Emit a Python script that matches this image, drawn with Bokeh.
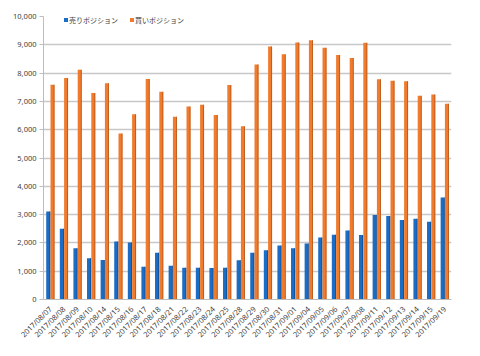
import math
from bokeh.plotting import figure
from bokeh.models import FactorRange, NumeralTickFormatter, Legend, LegendItem, FixedTicker
from bokeh.transform import dodge
from bokeh.embed import file_html
from bokeh.resources import INLINE

dates = ["2017/08/07", "2017/08/08", "2017/08/09", "2017/08/10", "2017/08/14",
         "2017/08/15", "2017/08/16", "2017/08/17", "2017/08/18", "2017/08/21",
         "2017/08/22", "2017/08/23", "2017/08/24", "2017/08/25", "2017/08/28",
         "2017/08/29", "2017/08/30", "2017/08/31", "2017/09/01", "2017/09/04",
         "2017/09/05", "2017/09/06", "2017/09/07", "2017/09/08", "2017/09/11",
         "2017/09/12", "2017/09/13", "2017/09/14", "2017/09/15", "2017/09/19"]
sell = [3110, 2500, 1810, 1460, 1400, 2050, 2010, 1160, 1650, 1190,
        1120, 1120, 1110, 1120, 1390, 1650, 1740, 1910, 1810, 1980,
        2190, 2290, 2440, 2280, 2990, 2950, 2810, 2850, 2750, 3600]
buy = [7590, 7830, 8120, 7300, 7640, 5870, 6550, 7790, 7340, 6460,
       6820, 6880, 6520, 7580, 6120, 8300, 8940, 8670, 9080, 9160,
       8900, 8640, 8530, 9070, 7780, 7730, 7710, 7200, 7240, 6920]
sell_label = "売りポジション"
buy_label = "買いポジション"
y_ticks = list(range(0, 10001, 1000))

p = figure(width=472, height=348, x_range=FactorRange(factors=dates, range_padding=0),
           y_range=(0, 10000), output_backend="svg", toolbar_location=None,
           min_border_left=43, min_border_right=21, min_border_top=16, min_border_bottom=49)
p.outline_line_color = None
p.background_fill_color = "white"

src = dict(date=dates, sell=sell, buy=buy)
r1 = p.vbar(x=dodge("date", -0.15, range=p.x_range), top="sell", width=0.3, bottom=0,
            source=src, fill_color="#1B6CC4", line_color=None)
p.vbar(x=dodge("date", -0.03, range=p.x_range), top="sell", width=0.06, bottom=0,
       source=src, fill_color="#0E4C92", line_color=None)
r2 = p.vbar(x=dodge("date", 0.16, range=p.x_range), top="buy", width=0.29, bottom=0,
            source=src, fill_color="#F07B2C", line_color=None)
p.vbar(x=dodge("date", 0.275, range=p.x_range), top="buy", width=0.06, bottom=0,
       source=src, fill_color="#B5561A", line_color=None)

p.yaxis.ticker = FixedTicker(ticks=y_ticks)
p.yaxis.formatter = NumeralTickFormatter(format="0,0")
p.yaxis.major_label_text_font = "Noto Sans"
p.yaxis.major_label_text_font_size = "7.5px"
p.yaxis.major_label_text_color = "#404040"
p.yaxis.axis_line_color = "#BDBDBD"
p.yaxis.major_tick_line_color = "#BDBDBD"
p.yaxis.major_tick_out = 4
p.yaxis.major_tick_in = 0
p.yaxis.minor_tick_line_color = None
p.yaxis.major_label_standoff = 3

p.xaxis.major_label_orientation = math.pi / 4
p.xaxis.major_label_text_font = "Noto Sans"
p.xaxis.major_label_text_font_size = "7.5px"
p.xaxis.major_label_text_color = "#404040"
p.xaxis.axis_line_color = "#BDBDBD"
p.xaxis.major_tick_line_color = None
p.xaxis.major_label_standoff = 2

p.xgrid.grid_line_color = None
p.ygrid.grid_line_color = "#C8C8C8"
p.ygrid.grid_line_width = 1.5

legend = Legend(items=[LegendItem(label=sell_label, renderers=[r1]),
                       LegendItem(label=buy_label, renderers=[r2])],
                location=(20, 274), orientation="horizontal",
                border_line_color=None, background_fill_alpha=0,
                glyph_width=5, glyph_height=5, label_standoff=1, spacing=11,
                padding=0, margin=0,
                label_text_font="Noto Sans CJK JP", label_text_font_size="7px",
                label_text_color="#404040", label_height=11)
p.add_layout(legend, "center")

open("out.html", "w").write(file_html(p, INLINE))
